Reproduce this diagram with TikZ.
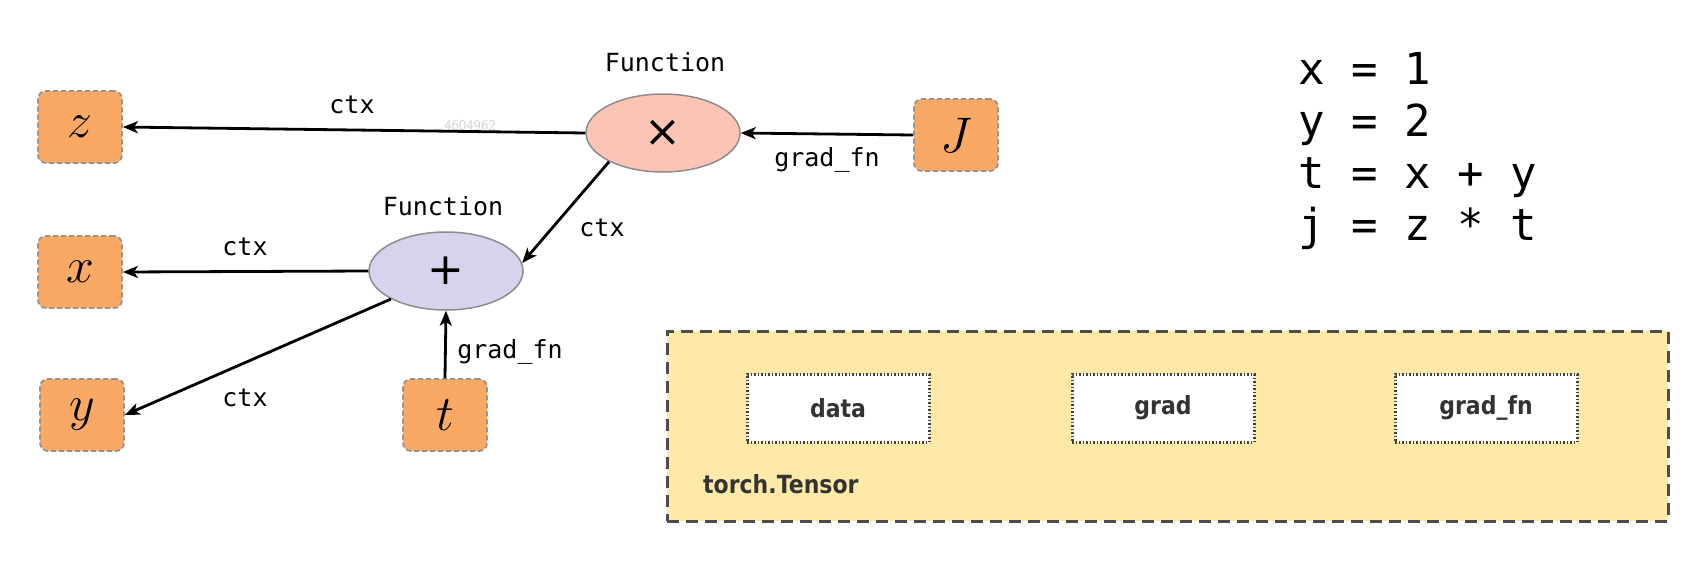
\RequirePackage{fix-cm}
\documentclass[tikz,border=0pt]{standalone}
\usepackage{fontspec}
\setmonofont{DejaVu Sans Mono}
\newfontfamily\boxfont[FakeStretch=0.88]{DejaVu Sans}
\newfontfamily\opfont{DejaVu Sans}
\usetikzlibrary{arrows.meta,shapes.geometric}
\definecolor{varfill}{RGB}{249,169,100}
\definecolor{mulfill}{RGB}{252,196,181}
\definecolor{addfill}{RGB}{214,212,236}
\definecolor{tensfill}{RGB}{255,233,169}
\definecolor{boxtext}{RGB}{51,51,51}
\tikzset{
  var/.style={draw=gray!85, dash pattern=on 5pt off 3pt, line width=1.8pt, fill=varfill,
    rounded corners=8pt, minimum width=84pt, minimum height=72pt, inner sep=0pt,
    font=\fontsize{50}{50}\selectfont},
  fun/.style={ellipse, draw=gray!90, line width=1.5pt, minimum width=154pt, minimum height=78pt,
    inner sep=0pt, font=\opfont\fontsize{44}{44}\selectfont},
  arr/.style={-{Stealth[length=15pt,width=12pt,inset=4pt]}, line width=2.8pt},
  lbl/.style={inner sep=0pt, font=\ttfamily\fontsize{25}{25}\selectfont},
  code/.style={inner sep=0pt, anchor=base west, font=\ttfamily\fontsize{44}{52}\selectfont},
  tensor/.style={draw=black!70, fill=tensfill, line width=3pt, dash pattern=on 12pt off 7pt,
    minimum width=1001pt, minimum height=190pt, inner sep=0pt},
  field/.style={draw=black!75, fill=white, line width=3pt, dash pattern=on 1.5pt off 2pt,
    minimum width=182pt, minimum height=68pt, inner sep=0pt, text=boxtext,
    font=\boxfont\bfseries\fontsize{25}{25}\selectfont}
}
\begin{document}
\begin{tikzpicture}[x=1pt,y=-1pt]
\path[use as bounding box, fill=white] (0,0) rectangle (1692,562);
% variable boxes
\node[var] (z) at (80,127) {$z$};
\node[var] (x) at (80,272) {$x$};
\node[var] (y) at (82,415) {$y$};
\node[var] (t) at (445,415) {$t$};
\node[var] (J) at (956,135) {$J$};
% functions
\node[fun, fill=mulfill] (mul) at (663,133) {×};
\node[fun, fill=addfill] (add) at (446,271) {+};
\node[lbl] (f1) at (665,62) {Function};
\node[lbl] (f2) at (443,206) {Function};
% watermark
\node[inner sep=0pt, text=gray!35, font=\sffamily\fontsize{15}{15}\selectfont] (wm) at (470,126) {4604962};
% connectors
\draw[arr] (mul.west) -- (z.east);
\draw[arr] (J.west) -- (mul.east);
\draw[arr] (mul.208) -- (add.6);
\draw[arr] (add.west) -- (x.east);
\draw[arr] (add.207) -- (y.east);
\draw[arr] (t.north) -- (add.south);
% labels
\node[lbl] (l1) at (352,105) {ctx};
\node[lbl] (l2) at (827,160) {grad\_fn};
\node[lbl] (l3) at (602,228) {ctx};
\node[lbl] (l4) at (245,247) {ctx};
\node[lbl] (l5) at (245,398) {ctx};
\node[lbl] (l6) at (510,352) {grad\_fn};
% code
\node[code] (c1) at (1298,84) {x = 1};
\node[code] (c2) at (1298,136) {y = 2};
\node[code] (c3) at (1298,188) {t = x + y};
\node[code] (c4) at (1298,240) {j = z * t};
% tensor
\node[tensor] (tens) at (1167.5,426) {};
\node[field] (data) at (838,408) {data};
\node[field] (grad) at (1163,408) {grad};
\node[field] (gfn) at (1486,408) {grad\_fn};
\node[inner sep=0pt, anchor=base west, text=boxtext, font=\boxfont\bfseries\fontsize{25}{25}\selectfont] (tl) at (703,493) {torch.Tensor};
\end{tikzpicture}
\end{document}
